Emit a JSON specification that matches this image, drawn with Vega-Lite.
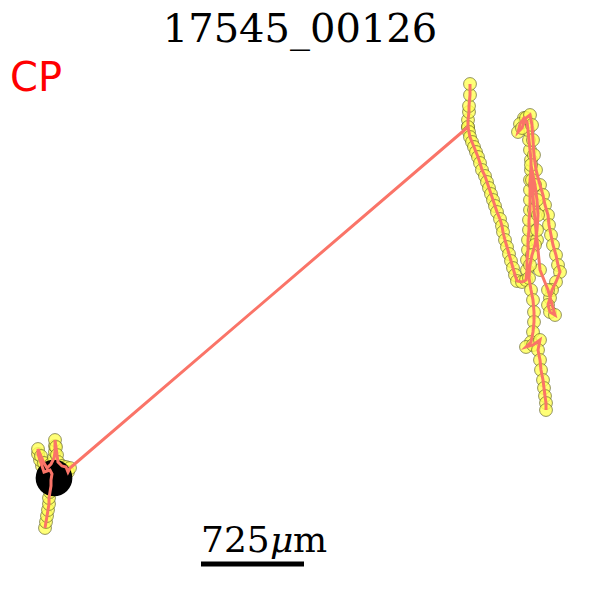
{
  "$schema": "https://vega.github.io/schema/vega-lite/v6.json",
  "width": 600,
  "height": 600,
  "padding": 0,
  "autosize": "none",
  "background": "white",
  "config": {"view": {"stroke": null}},
  "datasets": {
    "track": [
      {"t": 1, "o": 1, "x": 45, "y": 528}, {"t": 1, "o": 2, "x": 46, "y": 522}, {"t": 1, "o": 3, "x": 47, "y": 516}, {"t": 1, "o": 4, "x": 48, "y": 510},
      {"t": 1, "o": 5, "x": 49, "y": 504}, {"t": 1, "o": 6, "x": 49, "y": 498}, {"t": 1, "o": 7, "x": 50, "y": 492}, {"t": 1, "o": 8, "x": 51, "y": 486},
      {"t": 1, "o": 9, "x": 51, "y": 480}, {"t": 1, "o": 10, "x": 52, "y": 474}, {"t": 1, "o": 11, "x": 50, "y": 470}, {"t": 1, "o": 12, "x": 44, "y": 472},
      {"t": 1, "o": 13, "x": 42, "y": 466}, {"t": 1, "o": 14, "x": 40, "y": 460}, {"t": 1, "o": 15, "x": 38, "y": 454}, {"t": 1, "o": 16, "x": 38, "y": 449},
      {"t": 1, "o": 17, "x": 41, "y": 456}, {"t": 1, "o": 18, "x": 44, "y": 463}, {"t": 1, "o": 19, "x": 47, "y": 468}, {"t": 1, "o": 20, "x": 51, "y": 464},
      {"t": 1, "o": 21, "x": 54, "y": 458}, {"t": 1, "o": 22, "x": 55, "y": 452}, {"t": 1, "o": 23, "x": 55, "y": 446}, {"t": 1, "o": 24, "x": 55, "y": 440},
      {"t": 1, "o": 25, "x": 56, "y": 447}, {"t": 1, "o": 26, "x": 57, "y": 455}, {"t": 1, "o": 27, "x": 58, "y": 462}, {"t": 1, "o": 28, "x": 62, "y": 466},
      {"t": 1, "o": 29, "x": 66, "y": 467}, {"t": 1, "o": 30, "x": 68, "y": 472}, {"t": 1, "o": 31, "x": 70, "y": 468},
      {"t": 1, "o": 32, "x": 468, "y": 127}, {"t": 1, "o": 33, "x": 468, "y": 120}, {"t": 1, "o": 34, "x": 469, "y": 112}, {"t": 1, "o": 35, "x": 469, "y": 106},
      {"t": 1, "o": 36, "x": 470, "y": 95}, {"t": 1, "o": 37, "x": 470, "y": 84},
      {"t": 2, "o": 1, "x": 468, "y": 127}, {"t": 2, "o": 2, "x": 469, "y": 132}, {"t": 2, "o": 3, "x": 470, "y": 137}, {"t": 2, "o": 4, "x": 472, "y": 142},
      {"t": 2, "o": 5, "x": 474, "y": 147}, {"t": 2, "o": 6, "x": 476, "y": 152}, {"t": 2, "o": 7, "x": 478, "y": 157}, {"t": 2, "o": 8, "x": 480, "y": 163},
      {"t": 2, "o": 9, "x": 482, "y": 170}, {"t": 2, "o": 10, "x": 485, "y": 176}, {"t": 2, "o": 11, "x": 487, "y": 182}, {"t": 2, "o": 12, "x": 489, "y": 188},
      {"t": 2, "o": 13, "x": 491, "y": 194}, {"t": 2, "o": 14, "x": 493, "y": 200}, {"t": 2, "o": 15, "x": 495, "y": 206}, {"t": 2, "o": 16, "x": 497, "y": 212},
      {"t": 2, "o": 17, "x": 500, "y": 219}, {"t": 2, "o": 18, "x": 502, "y": 226}, {"t": 2, "o": 19, "x": 503, "y": 232}, {"t": 2, "o": 20, "x": 505, "y": 240},
      {"t": 2, "o": 21, "x": 507, "y": 247}, {"t": 2, "o": 22, "x": 509, "y": 254}, {"t": 2, "o": 23, "x": 511, "y": 261}, {"t": 2, "o": 24, "x": 513, "y": 268},
      {"t": 2, "o": 25, "x": 515, "y": 275}, {"t": 2, "o": 26, "x": 517, "y": 281}, {"t": 2, "o": 27, "x": 522, "y": 282}, {"t": 2, "o": 28, "x": 526, "y": 280},
      {"t": 2, "o": 29, "x": 527, "y": 270}, {"t": 2, "o": 30, "x": 527, "y": 260}, {"t": 2, "o": 31, "x": 528, "y": 250}, {"t": 2, "o": 32, "x": 528, "y": 240},
      {"t": 2, "o": 33, "x": 529, "y": 230}, {"t": 2, "o": 34, "x": 529, "y": 220}, {"t": 2, "o": 35, "x": 530, "y": 210}, {"t": 2, "o": 36, "x": 530, "y": 200},
      {"t": 2, "o": 37, "x": 530, "y": 190}, {"t": 2, "o": 38, "x": 530, "y": 180}, {"t": 2, "o": 39, "x": 531, "y": 170}, {"t": 2, "o": 40, "x": 531, "y": 160},
      {"t": 2, "o": 41, "x": 530, "y": 150}, {"t": 2, "o": 42, "x": 529, "y": 140}, {"t": 2, "o": 43, "x": 528, "y": 130}, {"t": 2, "o": 44, "x": 527, "y": 122},
      {"t": 2, "o": 45, "x": 524, "y": 118}, {"t": 2, "o": 46, "x": 520, "y": 124}, {"t": 2, "o": 47, "x": 518, "y": 132}, {"t": 2, "o": 48, "x": 522, "y": 128},
      {"t": 2, "o": 49, "x": 526, "y": 118}, {"t": 2, "o": 50, "x": 530, "y": 115}, {"t": 2, "o": 51, "x": 532, "y": 125}, {"t": 2, "o": 52, "x": 533, "y": 140},
      {"t": 2, "o": 53, "x": 534, "y": 155}, {"t": 2, "o": 54, "x": 536, "y": 170}, {"t": 2, "o": 55, "x": 540, "y": 185}, {"t": 2, "o": 56, "x": 543, "y": 195},
      {"t": 2, "o": 57, "x": 545, "y": 205}, {"t": 2, "o": 58, "x": 548, "y": 215}, {"t": 2, "o": 59, "x": 549, "y": 225}, {"t": 2, "o": 60, "x": 551, "y": 235},
      {"t": 2, "o": 61, "x": 553, "y": 245}, {"t": 2, "o": 62, "x": 556, "y": 255}, {"t": 2, "o": 63, "x": 558, "y": 265}, {"t": 2, "o": 64, "x": 560, "y": 272},
      {"t": 2, "o": 65, "x": 556, "y": 282}, {"t": 2, "o": 66, "x": 552, "y": 290}, {"t": 2, "o": 67, "x": 550, "y": 298}, {"t": 2, "o": 68, "x": 548, "y": 305},
      {"t": 2, "o": 69, "x": 550, "y": 312}, {"t": 2, "o": 70, "x": 555, "y": 315}, {"t": 2, "o": 71, "x": 548, "y": 290}, {"t": 2, "o": 72, "x": 540, "y": 270},
      {"t": 2, "o": 73, "x": 537, "y": 240}, {"t": 2, "o": 74, "x": 534, "y": 210}, {"t": 2, "o": 75, "x": 532, "y": 180}, {"t": 2, "o": 76, "x": 531, "y": 165},
      {"t": 2, "o": 77, "x": 535, "y": 185}, {"t": 2, "o": 78, "x": 537, "y": 200}, {"t": 2, "o": 79, "x": 538, "y": 215}, {"t": 2, "o": 80, "x": 537, "y": 230},
      {"t": 2, "o": 81, "x": 535, "y": 245}, {"t": 2, "o": 82, "x": 532, "y": 255}, {"t": 2, "o": 83, "x": 530, "y": 265}, {"t": 2, "o": 84, "x": 529, "y": 278},
      {"t": 2, "o": 85, "x": 531, "y": 290}, {"t": 2, "o": 86, "x": 533, "y": 300}, {"t": 2, "o": 87, "x": 534, "y": 312}, {"t": 2, "o": 88, "x": 534, "y": 322},
      {"t": 2, "o": 89, "x": 533, "y": 332}, {"t": 2, "o": 90, "x": 531, "y": 342}, {"t": 2, "o": 91, "x": 526, "y": 347}, {"t": 2, "o": 92, "x": 533, "y": 345},
      {"t": 2, "o": 93, "x": 540, "y": 340}, {"t": 2, "o": 94, "x": 538, "y": 350}, {"t": 2, "o": 95, "x": 540, "y": 360}, {"t": 2, "o": 96, "x": 541, "y": 370},
      {"t": 2, "o": 97, "x": 543, "y": 380}, {"t": 2, "o": 98, "x": 544, "y": 388}, {"t": 2, "o": 99, "x": 545, "y": 396}, {"t": 2, "o": 100, "x": 546, "y": 403},
      {"t": 2, "o": 101, "x": 546, "y": 410}
    ],
    "start": [{"x": 54, "y": 478}],
    "bar": [{"x": 201, "x2": 304, "y": 564}],
    "labels": [
      {"x": 300, "y": 42, "txt": "17545_00126", "kind": "title"},
      {"x": 10, "y": 91, "txt": "CP", "kind": "cp"},
      {"x": 201, "y": 552, "txt": "725", "kind": "num"},
      {"x": 270, "y": 552, "txt": "μ", "kind": "mu"},
      {"x": 293, "y": 552, "txt": "m", "kind": "num"}
    ]
  },
  "layer": [
    {
      "data": {"name": "track"},
      "mark": {"type": "point", "filled": true, "shape": "circle", "size": 165, "fill": "#ffff55", "fillOpacity": 0.8, "stroke": "#4d4d20", "strokeWidth": 1, "strokeOpacity": 0.6},
      "encoding": {
        "x": {"field": "x", "type": "quantitative", "scale": {"domain": [0, 600]}, "axis": null},
        "y": {"field": "y", "type": "quantitative", "scale": {"domain": [600, 0]}, "axis": null}
      }
    },
    {
      "data": {"name": "start"},
      "mark": {"type": "point", "filled": true, "shape": "circle", "size": 1350, "color": "black", "opacity": 1},
      "encoding": {
        "x": {"field": "x", "type": "quantitative"},
        "y": {"field": "y", "type": "quantitative"}
      }
    },
    {
      "data": {"name": "track"},
      "mark": {"type": "line", "color": "#fa7468", "strokeWidth": 3},
      "encoding": {
        "x": {"field": "x", "type": "quantitative"},
        "y": {"field": "y", "type": "quantitative"},
        "detail": {"field": "t", "type": "nominal"},
        "order": {"field": "o", "type": "quantitative"}
      }
    },
    {
      "data": {"name": "bar"},
      "mark": {"type": "rule", "color": "black", "strokeWidth": 5},
      "encoding": {
        "x": {"field": "x", "type": "quantitative"},
        "x2": {"field": "x2"},
        "y": {"field": "y", "type": "quantitative"}
      }
    },
    {
      "data": {"name": "labels"},
      "transform": [{"filter": "datum.kind === 'title'"}],
      "mark": {"type": "text", "font": "DejaVu Serif", "fontSize": 40, "color": "black", "align": "center", "baseline": "alphabetic"},
      "encoding": {
        "x": {"field": "x", "type": "quantitative"},
        "y": {"field": "y", "type": "quantitative"},
        "text": {"field": "txt"}
      }
    },
    {
      "data": {"name": "labels"},
      "transform": [{"filter": "datum.kind === 'cp'"}],
      "mark": {"type": "text", "font": "DejaVu Sans", "fontSize": 40, "color": "red", "align": "left", "baseline": "alphabetic"},
      "encoding": {
        "x": {"field": "x", "type": "quantitative"},
        "y": {"field": "y", "type": "quantitative"},
        "text": {"field": "txt"}
      }
    },
    {
      "data": {"name": "labels"},
      "transform": [{"filter": "datum.kind === 'num'"}],
      "mark": {"type": "text", "font": "DejaVu Serif", "fontSize": 36, "color": "black", "align": "left", "baseline": "alphabetic"},
      "encoding": {
        "x": {"field": "x", "type": "quantitative"},
        "y": {"field": "y", "type": "quantitative"},
        "text": {"field": "txt"}
      }
    },
    {
      "data": {"name": "labels"},
      "transform": [{"filter": "datum.kind === 'mu'"}],
      "mark": {"type": "text", "font": "DejaVu Serif", "fontSize": 36, "fontStyle": "italic", "color": "black", "align": "left", "baseline": "alphabetic"},
      "encoding": {
        "x": {"field": "x", "type": "quantitative"},
        "y": {"field": "y", "type": "quantitative"},
        "text": {"field": "txt"}
      }
    }
  ]
}
